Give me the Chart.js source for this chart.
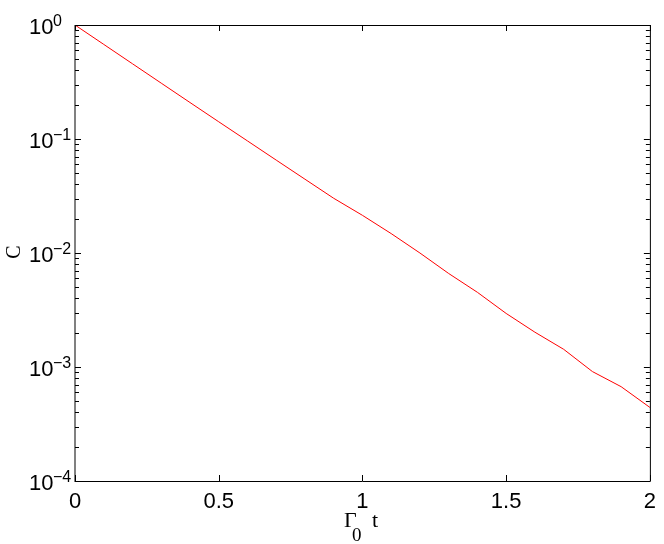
<!DOCTYPE html>
<html>
<head>
<meta charset="utf-8">
<script src="https://cdn.jsdelivr.net/npm/chart.js@4/dist/chart.umd.min.js"></script>
<style>
  html, body { margin: 0; padding: 0; background: #fff; }
  #wrap { width: 664px; height: 544px; }
</style>
</head>
<body>
<div id="wrap"><canvas id="myChart" width="664" height="544"></canvas></div>
<script>
// values
const tVals = [0, 0.1, 0.2, 0.3, 0.4, 0.5, 0.6, 0.7, 0.8, 0.9, 1.0,
  1.1, 1.2, 1.3, 1.4, 1.5, 1.6, 1.7, 1.8, 1.9, 2.0];
const cVals = [1.0, 0.676, 0.457, 0.309, 0.209, 0.1416, 0.0962, 0.0653, 0.0444, 0.0302, 0.0214,
  0.0148, 0.0100, 0.00661, 0.00452, 0.00295, 0.00202, 0.00143, 0.000912, 0.000672, 0.000442];
const xTicks = [0, 0.5, 1, 1.5, 2];
const yDecades = [0, -1, -2, -3, -4];

const SANS = "'Liberation Sans', Arial, sans-serif";
const SERIF = "'Liberation Serif', 'Times New Roman', serif";

// box, inward ticks (both sides), y labels with superscripts, axis titles
const framePlugin = {
  id: "frame",
  afterDraw: (chart) => {
    const ctx = chart.ctx;
    const xs = chart.scales.x;
    const ys = chart.scales.y;
    const a = chart.chartArea;
    ctx.save();

    ctx.strokeStyle = "#000";
    ctx.lineWidth = 1;
    ctx.beginPath();
    ctx.moveTo(a.left, a.top + 0.5);
    ctx.lineTo(a.right + 0.5, a.top + 0.5);
    ctx.lineTo(a.right + 0.5, a.bottom + 0.5);
    ctx.lineTo(a.left, a.bottom + 0.5);
    ctx.stroke();
    ctx.strokeStyle = "#808080";
    ctx.lineWidth = 2;
    ctx.beginPath();
    ctx.moveTo(a.left, a.top);
    ctx.lineTo(a.left, a.bottom + 1);
    ctx.stroke();

    ctx.strokeStyle = "#000";
    ctx.lineWidth = 1;
    ctx.beginPath();
    xTicks.forEach((v) => {
      const px = Math.round(xs.getPixelForValue(v)) + 0.5;
      ctx.moveTo(px, a.bottom);
      ctx.lineTo(px, a.bottom - 6);
      ctx.moveTo(px, a.top);
      ctx.lineTo(px, a.top + 6);
    });
    yDecades.forEach((d) => {
      for (let k = 1; k <= 9; k++) {
        if (d === 0 && k > 1) continue;
        const v = k * Math.pow(10, d);
        const py = Math.round(ys.getPixelForValue(v)) + 0.5;
        const len = k === 1 ? 6 : 4;
        ctx.moveTo(a.left, py);
        ctx.lineTo(a.left + len, py);
        ctx.moveTo(a.right, py);
        ctx.lineTo(a.right - len, py);
      }
    });
    ctx.stroke();

    ctx.fillStyle = "#000";
    ctx.textAlign = "left";
    ctx.textBaseline = "alphabetic";
    yDecades.forEach((d) => {
      const py = ys.getPixelForValue(Math.pow(10, d));
      ctx.font = "22px " + SANS;
      ctx.fillText("10", 29, py + 9);
      ctx.font = "16px " + SANS;
      ctx.fillText(d === 0 ? "0" : "\u2212" + (-d), 53, py + 1);
    });

    // x title: Γ0 t
    ctx.font = "22px " + SERIF;
    ctx.fillText("\u0393", 344, 527);
    ctx.fillText("t", 372, 527);
    ctx.font = "19px " + SERIF;
    ctx.fillText("0", 352, 541);

    // y title: C
    ctx.translate(20, 252);
    ctx.rotate(-Math.PI / 2);
    ctx.textAlign = "center";
    ctx.font = "20px " + SERIF;
    ctx.fillText("C", 0, 0);
    ctx.restore();
  },
};

const ctx = document.getElementById("myChart").getContext("2d");
const myChart = new Chart(ctx, {
  type: "line",
  data: {
    datasets: [
      {
        data: tVals.map((t, i) => ({ x: t, y: cVals[i] })),
        borderColor: "#ff0000",
        borderWidth: 1,
        pointRadius: 0,
        fill: false,
        tension: 0,
      },
    ],
  },
  options: {
    responsive: false,
    animation: false,
    parsing: false,
    layout: { padding: { top: 25, right: 11, left: 0, bottom: 0 } },
    plugins: {
      legend: { display: false },
      tooltip: { enabled: false },
    },
    scales: {
      x: {
        type: "linear",
        min: 0,
        max: 2,
        afterBuildTicks: (scale) => {
          scale.ticks = xTicks.map((v) => ({ value: v }));
        },
        afterFit: (scale) => {
          scale.height = 63;
        },
        ticks: {
          color: "#000",
          padding: 8,
          maxRotation: 0,
          autoSkip: false,
          font: { family: SANS, size: 22 },
          callback: (v) => String(v),
        },
        grid: { display: false, drawTicks: false },
        border: { display: false },
      },
      y: {
        type: "logarithmic",
        min: 1e-4,
        max: 1,
        afterFit: (scale) => {
          scale.width = 75;
        },
        ticks: { display: false },
        grid: { display: false, drawTicks: false },
        border: { display: false },
      },
    },
  },
  plugins: [framePlugin],
});
</script>
</body>
</html>
